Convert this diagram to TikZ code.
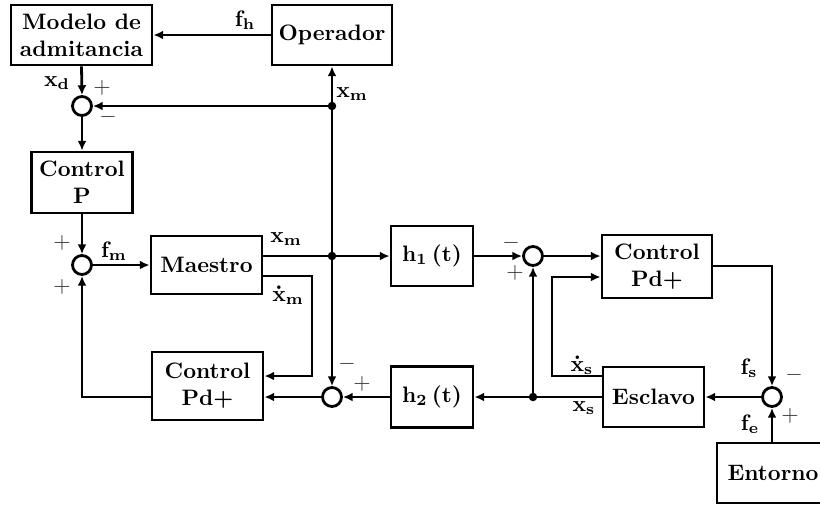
\documentclass[tikz,border=0pt]{standalone}
\usetikzlibrary{arrows.meta,calc}
\begin{document}
\begin{tikzpicture}[x=0.4475pt,y=-0.4475pt,
  line width=1.25pt,
  blk/.style={draw, align=center, inner sep=0pt, font=\bfseries\boldmath},
  wh/.style 2 args={minimum width=#1*0.4475pt, minimum height=#2*0.4475pt},
  sumc/.style={draw, circle, inner sep=0pt, minimum size=19*0.4475pt},
  arr/.style={-{Latex[length=4.4pt,width=4pt]}},
  lbl/.style={inner sep=0pt, font=\bfseries\boldmath},
  pm/.style={inner sep=0pt, font=\normalfont\unboldmath, text=black!80}]
\useasboundingbox (0,0) rectangle (820,506);
% blocks
\node[blk, wh={141}{60}] (model) at (81.5,35) {Modelo de\\admitancia};
\node[blk, wh={120}{60}] (oper) at (332,35) {Operador};
\node[sumc] (s1) at (82,106) {};
\node[blk, wh={101}{61}] (ctrlP) at (82,182.5) {Control\\P};
\node[sumc] (s2) at (82,265) {};
\node[blk, wh={111}{58}] (maestro) at (206.5,265) {Maestro};
\node[blk, wh={111}{68}] (ctrlL) at (207.5,386) {Control\\Pd+};
\node[sumc] (s3) at (332,397) {};
\node[blk, wh={82}{60}] (h1) at (432,256) {$\mathbf{h_1}\left(\mathbf{t}\right)$};
\node[blk, wh={82}{61}] (h2) at (432,397) {$\mathbf{h_2}\left(\mathbf{t}\right)$};
\node[sumc] (s4) at (533,256) {};
\node[blk, wh={110}{63}] (ctrlR) at (657,266.5) {Control\\Pd+};
\node[blk, wh={101}{60}] (escl) at (653.5,397) {Esclavo};
\node[sumc] (s5) at (772,397) {};
\node[blk, wh={112}{60}] (ent) at (773,473) {Entorno};
% coordinates
\coordinate (jm) at (332,256);
\coordinate (j1) at (332,106);
\coordinate (xmdA) at (312,276);
\coordinate (xmdB) at (312,376);
\coordinate (fbL) at (82,397);
\coordinate (xsdA) at (552,376);
\coordinate (xsdB) at (552,277);
\coordinate (js) at (533,397);
\coordinate (cr) at (772,266);
% connectors
\draw[arr] (oper.west) -- (model.east);
\draw[arr] (model.south) -- (s1.north);
\draw[arr] (s1.south) -- (ctrlP.north);
\draw[arr] (ctrlP.south) -- (s2.north);
\draw[arr] (s2.east) -- (maestro.west);
\draw (maestro.east |- jm) -- (jm);
\draw[arr] (jm) -- (h1.west);
\draw[arr] (jm) -- (oper.south);
\draw[arr] (j1) -- (s1.east);
\draw[arr] (jm) -- (s3.north);
\draw[arr] (maestro.east |- xmdA) -- (xmdA) -- (xmdB) -- (ctrlL.east |- xmdB);
\draw[arr] (s3.west) -- (ctrlL.east |- s3);
\draw[arr] (ctrlL.west |- s3) -- (fbL) -- (s2.south);
\draw[arr] (h1.east) -- (s4.west);
\draw[arr] (s4.east) -- (ctrlR.west |- s4);
\draw[arr] (escl.west |- xsdA) -- (xsdA) -- (xsdB) -- (ctrlR.west |- xsdB);
\draw[arr] (escl.west |- js) -- (h2.east |- js);
\draw[arr] (js) -- (s4.south);
\draw[arr] (h2.west) -- (s3.east);
\draw[arr] (ctrlR.east |- cr) -- (cr) -- (s5.north);
\draw[arr] (s5.west) -- (escl.east |- s5);
\draw[arr] (ent.north -| s5) -- (s5.south);
% dots
\fill (jm) circle (1.9pt);
\fill (j1) circle (1.9pt);
\fill (js) circle (1.9pt);
% labels
\node[lbl] (lfh) at (245,20) {$\mathbf{f_h}$};
\node[lbl] (lxd) at (57,83) {$\mathbf{x_d}$};
\node[pm] (p1a) at (102,88) {$+$};
\node[pm] (p1b) at (108,117) {$-$};
\node[lbl] (lxm1) at (352,94) {$\mathbf{x_m}$};
\node[pm] (p2a) at (62,243) {$+$};
\node[lbl] (lfm) at (114,251) {$\mathbf{f_m}$};
\node[pm] (p2b) at (62,287) {$+$};
\node[lbl] (lxm2) at (286,239) {$\mathbf{x_m}$};
\node[lbl] (lxmd) at (288,295) {$\dot{\mathbf{x}}_{\mathbf{m}}$};
\node[pm] (p3a) at (347,364) {$-$};
\node[pm] (p3b) at (362,384) {$+$};
\node[pm] (p4a) at (511,243) {$-$};
\node[pm] (p4b) at (515,273) {$+$};
\node[lbl] (lxsd) at (582,365) {$\dot{\mathbf{x}}_{\mathbf{s}}$};
\node[lbl] (lxs) at (584,408) {$\mathbf{x_s}$};
\node[lbl] (lfs) at (749,368) {$\mathbf{f_s}$};
\node[pm] (p5a) at (794,375) {$-$};
\node[lbl] (lfe) at (750,424) {$\mathbf{f_e}$};
\node[pm] (p5b) at (790,416) {$+$};
\end{tikzpicture}
\end{document}
